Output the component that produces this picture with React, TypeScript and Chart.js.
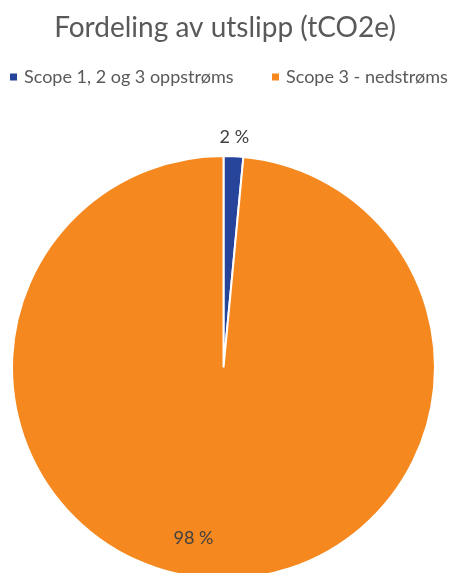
import React, { useEffect, useRef } from "react";
import { Chart, registerables } from "chart.js";
Chart.register(...registerables);

const titleText = "Fordeling av utslipp (tCO2e)";
const categories = ["Scope 1, 2 og 3 oppstrøms", "Scope 3 - nedstrøms"];
const shares = [1.5, 98.5];
const percentLabels = ["2 %", "98 %"];
const colors = ["#26459A", "#F5881F"];

const FONT = "Lato, 'Open Sans', sans-serif";
const legendItemX = [10, 272];

const textPlugin = {
  id: "titleLegendLabels",
  afterDraw(chart: any) {
    const ctx = chart.ctx;
    const w = chart.width;
    ctx.save();
    // title
    ctx.font = `28px ${FONT}`;
    ctx.fillStyle = "#595959";
    ctx.textAlign = "center";
    ctx.textBaseline = "alphabetic";
    ctx.fillText(titleText, w / 2, 37);
    // legend
    ctx.font = `18px ${FONT}`;
    ctx.textAlign = "left";
    ctx.textBaseline = "middle";
    categories.forEach((c, i) => {
      const x = legendItemX[i];
      ctx.fillStyle = colors[i];
      ctx.fillRect(x, 73.5, 7, 7);
      ctx.fillStyle = "#595959";
      ctx.fillText(c, x + 14, 77.5);
    });
    // percent labels
    const meta = chart.getDatasetMeta(0);
    ctx.font = `18px ${FONT}`;
    ctx.fillStyle = "#404040";
    ctx.textAlign = "center";
    ctx.textBaseline = "middle";
    meta.data.forEach((arc: any, i: number) => {
      const p = arc.getProps(["x", "y", "startAngle", "endAngle", "outerRadius"], true);
      let mid = (p.startAngle + p.endAngle) / 2;
      let r: number;
      if (i === 0) {
        r = p.outerRadius + 19;
      } else {
        mid += 0.127;
        r = p.outerRadius * 0.818;
      }
      ctx.fillText(percentLabels[i], p.x + Math.cos(mid) * r, p.y + Math.sin(mid) * r);
    });
    ctx.restore();
  },
};

export default function App() {
  const ref = useRef<HTMLCanvasElement | null>(null);
  useEffect(() => {
    if (!ref.current) return;
    const chart = new Chart(ref.current, {
      type: "pie",
      data: {
        labels: categories,
        datasets: [
          {
            data: shares,
            backgroundColor: colors,
            borderColor: "#FFFFFF",
            borderWidth: 2,
            hoverOffset: 0,
            offset: 0,
          },
        ],
      },
      options: {
        responsive: false,
        animation: false,
        layout: { padding: { left: 11, right: 14, top: 155, bottom: 10 } },
        plugins: {
          title: { display: false },
          legend: { display: false },
          tooltip: { enabled: false },
        },
      },
      plugins: [textPlugin],
    });
    return () => chart.destroy();
  }, []);
  return (
    <div style={{ position: "absolute", left: 0, top: 0, width: 450, height: 573, overflow: "hidden", background: "#fff" }}>
      <canvas ref={ref} width={450} height={590} style={{ display: "block" }} />
    </div>
  );
}
